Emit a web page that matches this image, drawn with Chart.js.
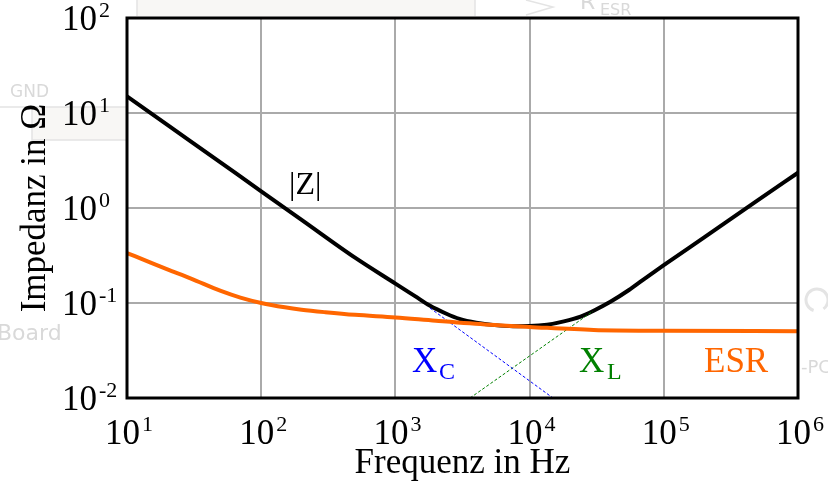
<!DOCTYPE html>
<html>
<head>
<meta charset="utf-8">
<script src="https://cdn.jsdelivr.net/npm/chart.js@4.4.1/dist/chart.umd.min.js"></script>
<style>
  html, body { margin: 0; padding: 0; background: #fff; }
  #wrap { width: 828px; height: 492px; }
</style>
</head>
<body>
<div id="wrap"><canvas id="chart" width="828" height="492"></canvas></div>
<script>
// |Z| curve (Hz, Ohm)
let freqZ = [10, 20, 50, 100, 200, 500, 1000, 1400, 1800, 2400, 3000, 4000, 5500, 7500, 10000, 13500, 18000, 24000, 30000, 40000, 55000, 70000, 100000, 200000, 500000, 1000000];
let impedZ = [15, 7.5, 3.0, 1.5, 0.75, 0.3, 0.16, 0.118, 0.094, 0.077, 0.068, 0.062, 0.0585, 0.057, 0.0572, 0.059, 0.064, 0.072, 0.083, 0.103, 0.137, 0.175, 0.25, 0.49, 1.2, 2.35];

// ESR curve
let freqESR = [10, 15, 20, 30, 50, 70, 100, 150, 200, 300, 500, 1000, 2000, 5000, 10000, 30000, 100000, 1000000];
let esr = [0.336, 0.266, 0.226, 0.181, 0.134, 0.114, 0.1, 0.09, 0.085, 0.08, 0.075, 0.0705, 0.065, 0.059, 0.056, 0.052, 0.051, 0.0505];

// X_C and X_L asymptotes (dashed)
let freqXC = [1811, 14930];
let xc = [0.0885, 0.01];
let freqXL = [3600, 29650];
let xl = [0.01, 0.082];

// decade ticks
let xTicks = [10, 100, 1000, 10000, 100000, 1000000];
let xExps = ["1", "2", "3", "4", "5", "6"];
let yTicks = [0.01, 0.1, 1, 10, 100];
let yExps = ["-2", "-1", "0", "1", "2"];

const SERIF = "'Liberation Serif', 'Times New Roman', serif";

function pts(xs, ys) {
    return xs.map((x, i) => ({ x: x, y: ys[i] }));
}

function powWidth(ctx, exp) {
    ctx.font = "35px " + SERIF;
    let w = ctx.measureText("10").width;
    ctx.font = "22px " + SERIF;
    return w + 2 + ctx.measureText(exp).width;
}

function drawPow(ctx, left, base, exp) {
    ctx.textAlign = "left";
    ctx.textBaseline = "alphabetic";
    ctx.font = "35px " + SERIF;
    ctx.fillText("10", left, base);
    let w = ctx.measureText("10").width;
    ctx.font = "22px " + SERIF;
    ctx.fillText(exp, left + w + 2, base - 13);
}

// faint leftovers of the screenshot behind the chart
const backdrop = {
    id: "backdrop",
    beforeDraw(chart) {
        const ctx = chart.ctx;
        ctx.save();
        ctx.fillStyle = "#f8f7f5";
        ctx.fillRect(137, 0, 338, 16);
        ctx.fillRect(32, 107, 95, 33);
        ctx.strokeStyle = "#e4e4e4";
        ctx.lineWidth = 1.5;
        ctx.beginPath();
        ctx.moveTo(137, 0); ctx.lineTo(137, 16);
        ctx.moveTo(475, 0); ctx.lineTo(475, 16);
        ctx.moveTo(0, 107); ctx.lineTo(127, 107);
        ctx.moveTo(32, 107); ctx.lineTo(32, 140); ctx.lineTo(127, 140);
        ctx.moveTo(526, 0); ctx.lineTo(553, 7); ctx.lineTo(526, 15);
        ctx.stroke();
        ctx.lineWidth = 3;
        ctx.beginPath();
        ctx.arc(817, 300, 11, Math.PI * 0.6, Math.PI * 2.3);
        ctx.stroke();
        ctx.fillStyle = "#d9d9d9";
        ctx.font = "17px 'DejaVu Sans'";
        ctx.fillText("GND", 10, 97);
        ctx.font = "22px 'DejaVu Sans'";
        ctx.fillText("Board", -3, 340);
        ctx.font = "22px 'DejaVu Sans'";
        ctx.fillText("R", 580, 9);
        ctx.font = "16px 'DejaVu Sans'";
        ctx.fillText("ESR", 600, 15);
        ctx.font = "18px 'DejaVu Sans'";
        ctx.fillText("-PC", 801, 373);
        ctx.restore();
    }
};

// frame, tick labels, axis titles and curve names
const annotate = {
    id: "annotate",
    afterDraw(chart) {
        const ctx = chart.ctx;
        const a = chart.chartArea;
        const sx = chart.scales.x;
        const sy = chart.scales.y;
        ctx.save();
        ctx.strokeStyle = "#000";
        ctx.lineWidth = 3;
        ctx.strokeRect(a.left, a.top, a.right - a.left, a.bottom - a.top);

        ctx.fillStyle = "#000";
        xTicks.forEach((t, i) => {
            const px = sx.getPixelForValue(t);
            const w = powWidth(ctx, xExps[i]);
            drawPow(ctx, px + 2 - w / 2, a.bottom + 46, xExps[i]);
        });
        yTicks.forEach((t, i) => {
            const py = sy.getPixelForValue(t);
            drawPow(ctx, 62, py + 12, yExps[i]);
        });

        ctx.font = "35px " + SERIF;
        ctx.textAlign = "center";
        ctx.fillText("Frequenz in Hz", (a.left + a.right) / 2, 473);
        ctx.save();
        ctx.translate(45, (a.top + a.bottom) / 2);
        ctx.rotate(-Math.PI / 2);
        ctx.fillText("Impedanz in \u03A9", 0, 0);
        ctx.restore();

        ctx.textAlign = "left";
        ctx.font = "32px " + SERIF;
        ctx.fillText("|Z|", 289, 194);

        ctx.fillStyle = "#0000ff";
        ctx.font = "35px " + SERIF;
        ctx.fillText("X", 412, 372);
        ctx.font = "24px " + SERIF;
        ctx.fillText("C", 439, 379);

        ctx.fillStyle = "#008000";
        ctx.font = "35px " + SERIF;
        ctx.fillText("X", 579, 372);
        ctx.font = "24px " + SERIF;
        ctx.fillText("L", 607, 379);

        ctx.fillStyle = "#ff6600";
        ctx.font = "35px " + SERIF;
        ctx.fillText("ESR", 704, 372);
        ctx.restore();
    }
};

new Chart("chart", {
    type: "line",
    data: {
        datasets: [
            {
                label: "ESR",
                data: pts(freqESR, esr),
                borderColor: "#ff6600",
                borderWidth: 4,
                pointRadius: 0,
                cubicInterpolationMode: "monotone",
            },
            {
                label: "XC",
                data: pts(freqXC, xc),
                borderColor: "#0000ff",
                borderWidth: 1,
                borderDash: [3, 2],
                pointRadius: 0,
            },
            {
                label: "XL",
                data: pts(freqXL, xl),
                borderColor: "#008000",
                borderWidth: 1,
                borderDash: [3, 2],
                pointRadius: 0,
            },
            {
                label: "|Z|",
                data: pts(freqZ, impedZ),
                borderColor: "#000000",
                borderWidth: 4,
                pointRadius: 0,
                cubicInterpolationMode: "monotone",
            },
        ],
    },
    options: {
        responsive: false,
        animation: false,
        events: [],
        layout: { padding: { top: 18, right: 30, left: 0, bottom: 0 } },
        plugins: {
            legend: { display: false },
            title: { display: false },
            tooltip: { enabled: false },
        },
        scales: {
            x: {
                type: "logarithmic",
                min: 10,
                max: 1000000,
                afterBuildTicks: (s) => { s.ticks = xTicks.map(v => ({ value: v })); },
                afterFit: (s) => { s.height = 94; },
                ticks: { display: false },
                grid: { color: "#aaaaaa", lineWidth: 2, drawTicks: false },
                border: { display: false },
            },
            y: {
                type: "logarithmic",
                min: 0.01,
                max: 100,
                afterBuildTicks: (s) => { s.ticks = yTicks.map(v => ({ value: v })); },
                afterFit: (s) => { s.width = 127; },
                ticks: { display: false },
                grid: { color: "#aaaaaa", lineWidth: 2, drawTicks: false },
                border: { display: false },
            },
        },
    },
    plugins: [backdrop, annotate],
});
</script>
</body>
</html>
